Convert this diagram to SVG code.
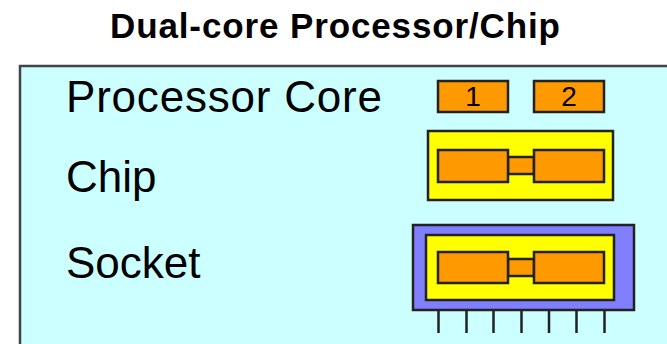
<svg xmlns="http://www.w3.org/2000/svg" width="667" height="344" viewBox="0 0 667 344">
<style>
.lbl{font-family:"Liberation Sans",Arial,sans-serif;font-size:44px;fill:#000}
.title{font-family:"Liberation Sans",Arial,sans-serif;font-size:35px;font-weight:bold;fill:#000}
.num{font-family:"Liberation Sans",Arial,sans-serif;font-size:28px;fill:#000}
.core{fill:#FF9900;stroke:#222;stroke-width:2.5}
.chip{fill:#FFFF00;stroke:#222;stroke-width:2.5}
.sock{fill:#7F7FFF;stroke:#222;stroke-width:2.5}
.pin{stroke:#222;stroke-width:2.5}
</style>
<rect width="667" height="344" fill="#fff"/>
<text class="title" x="335" y="38" text-anchor="middle" textLength="450">Dual-core Processor/Chip</text>
<g id="frame">
<rect x="20" y="66" width="660" height="300" fill="#CCFFFF" stroke="#444" stroke-width="2.5"/>
</g>
<g id="labels">
<text class="lbl" x="66" y="112" textLength="316">Processor Core</text>
<text class="lbl" x="66" y="192">Chip</text>
<text class="lbl" x="66" y="278">Socket</text>
</g>
<g id="cores">
<rect class="core" x="438" y="81" width="70" height="31"/>
<text class="num" x="473" y="106" text-anchor="middle">1</text>
<rect class="core" x="534" y="81" width="70" height="31"/>
<text class="num" x="569" y="106" text-anchor="middle">2</text>
</g>
<g id="chip">
<rect class="chip" x="428" y="131" width="185" height="69"/>
<rect class="core" x="508" y="157" width="26" height="17"/>
<rect class="core" x="438" y="150" width="70" height="32"/>
<rect class="core" x="534" y="150" width="70" height="32"/>
</g>
<g id="socket">
<g class="pins">
<line class="pin" x1="438.5" y1="310" x2="438.5" y2="333"/>
<line class="pin" x1="466.5" y1="310" x2="466.5" y2="333"/>
<line class="pin" x1="493.5" y1="310" x2="493.5" y2="333"/>
<line class="pin" x1="521.5" y1="310" x2="521.5" y2="333"/>
<line class="pin" x1="549" y1="310" x2="549" y2="333"/>
<line class="pin" x1="576.5" y1="310" x2="576.5" y2="333"/>
<line class="pin" x1="604.5" y1="310" x2="604.5" y2="333"/>
</g>
<rect class="sock" x="413" y="225" width="221" height="85"/>
<rect class="chip" x="426" y="235" width="188" height="65"/>
<rect class="core" x="508" y="259" width="26" height="17"/>
<rect class="core" x="438" y="252" width="70" height="31"/>
<rect class="core" x="534" y="252" width="70" height="31"/>
</g>
</svg>
